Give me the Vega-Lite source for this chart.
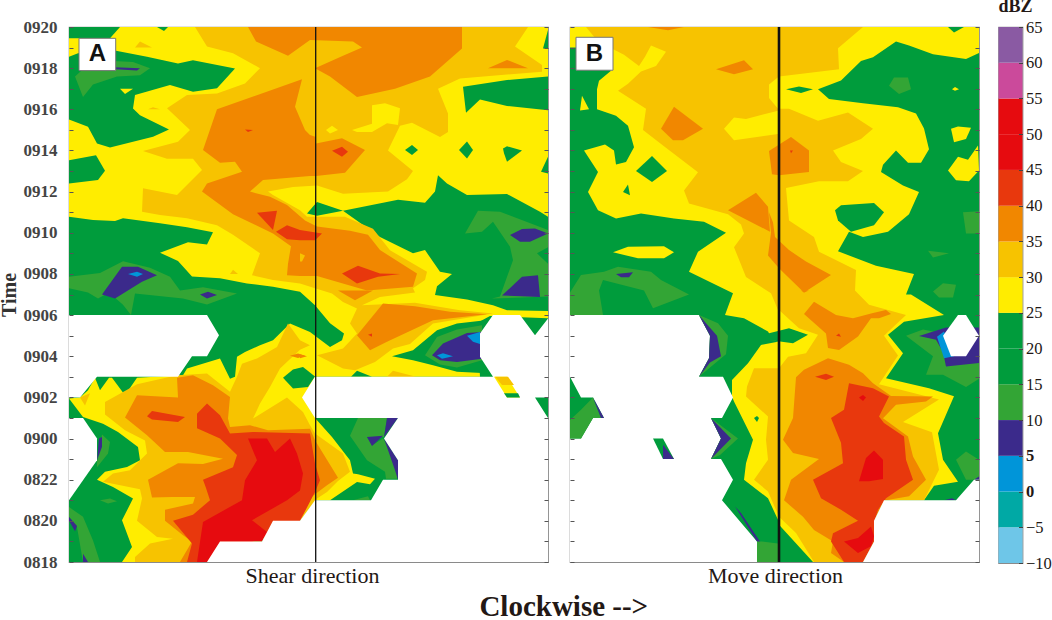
{"$schema":"https://vega.github.io/schema/vega-lite/v6.json","padding":{"left":-2,"top":-3,"right":0,"bottom":0},"background":"white","config":{"view":{"stroke":"#8a8a8a","strokeWidth":1.2},"axis":{"labelFont":"Liberation Serif","titleFont":"Liberation Serif"}},"spacing":16.5,
"title":{"text":"Clockwise -->","orient":"bottom","anchor":"start","dx":481,"offset":6,"font":"Liberation Serif","fontSize":29,"fontWeight":"bold","color":"#231815"},
"datasets":{
"bands":[{"z":-10,"hi":-5},{"z":-5,"hi":0},{"z":0,"hi":5},{"z":5,"hi":10},{"z":10,"hi":15},{"z":15,"hi":20},{"z":20,"hi":25},{"z":25,"hi":30},{"z":30,"hi":35},{"z":35,"hi":40},{"z":40,"hi":45},{"z":45,"hi":50},{"z":50,"hi":55},{"z":55,"hi":60},{"z":60,"hi":65}],
"a":[
{"id":1,"z":20,"x":0,"t":0},{"id":1,"z":20,"x":479,"t":0},{"id":1,"z":20,"x":479,"t":26},{"id":1,"z":20,"x":0,"t":26},
{"id":2,"z":25,"x":0,"t":26},{"id":2,"z":25,"x":479,"t":26},{"id":2,"z":25,"x":479,"t":16.78},{"id":2,"z":25,"x":471,"t":17.02},{"id":2,"z":25,"x":438,"t":17.88},{"id":2,"z":25,"x":398,"t":17.83},{"id":2,"z":25,"x":378,"t":18.4},{"id":2,"z":25,"x":369,"t":18.8},{"id":2,"z":25,"x":366,"t":18},{"id":2,"z":25,"x":356,"t":17.46},{"id":2,"z":25,"x":329,"t":17.6},{"id":2,"z":25,"x":274,"t":17.07},{"id":2,"z":25,"x":311,"t":15.8},{"id":2,"z":25,"x":344,"t":15},{"id":2,"z":25,"x":356,"t":15.16},{"id":2,"z":25,"x":371,"t":14.1},{"id":2,"z":25,"x":383,"t":14},{"id":2,"z":25,"x":368,"t":13.4},{"id":2,"z":25,"x":366,"t":12.97},{"id":2,"z":25,"x":398,"t":12.76},{"id":2,"z":25,"x":424,"t":12.48},{"id":2,"z":25,"x":438,"t":12.24},{"id":2,"z":25,"x":479,"t":12.2},{"id":2,"z":25,"x":479,"t":11.85},{"id":2,"z":25,"x":421,"t":11.95},{"id":2,"z":25,"x":408,"t":11.62},{"id":2,"z":25,"x":411,"t":9},{"id":2,"z":25,"x":246,"t":9},{"id":2,"z":25,"x":246,"t":7},{"id":2,"z":25,"x":263,"t":6.08},{"id":2,"z":25,"x":281,"t":4.94},{"id":2,"z":25,"x":284,"t":4.3},{"id":2,"z":25,"x":289,"t":4.26},{"id":2,"z":25,"x":306,"t":4.05},{"id":2,"z":25,"x":301,"t":3.78},{"id":2,"z":25,"x":288,"t":3.89},{"id":2,"z":25,"x":261,"t":3},{"id":2,"z":25,"x":246,"t":3},{"id":2,"z":25,"x":231,"t":2},{"id":2,"z":25,"x":204,"t":2},{"id":2,"z":25,"x":193,"t":1},{"id":2,"z":25,"x":151,"t":1},{"id":2,"z":25,"x":138,"t":0},{"id":2,"z":25,"x":53,"t":0},{"id":2,"z":25,"x":63,"t":0.73},{"id":2,"z":25,"x":53,"t":2.03},{"id":2,"z":25,"x":64,"t":3.08},{"id":2,"z":25,"x":44,"t":3.65},{"id":2,"z":25,"x":28,"t":4},{"id":2,"z":25,"x":36,"t":4.38},{"id":2,"z":25,"x":58,"t":4.62},{"id":2,"z":25,"x":71,"t":4.94},{"id":2,"z":25,"x":69,"t":5.59},{"id":2,"z":25,"x":49,"t":6.32},{"id":2,"z":25,"x":34,"t":6.72},{"id":2,"z":25,"x":14,"t":7.05},{"id":2,"z":25,"x":0,"t":7.94},{"id":2,"z":25,"x":11,"t":8},{"id":2,"z":25,"x":19,"t":8.35},{"id":2,"z":25,"x":26,"t":8.96},{"id":2,"z":25,"x":31,"t":8.35},{"id":2,"z":25,"x":40,"t":8.96},{"id":2,"z":25,"x":43,"t":8.96},{"id":2,"z":25,"x":56,"t":8.1},{"id":2,"z":25,"x":68,"t":8.96},{"id":2,"z":25,"x":114,"t":9.08},{"id":2,"z":25,"x":118,"t":9.4},{"id":2,"z":25,"x":151,"t":9.89},{"id":2,"z":25,"x":161,"t":8.9},{"id":2,"z":25,"x":166,"t":9},{"id":2,"z":25,"x":168,"t":9.97},{"id":2,"z":25,"x":176,"t":10.21},{"id":2,"z":25,"x":191,"t":10.53},{"id":2,"z":25,"x":204,"t":10.78},{"id":2,"z":25,"x":221,"t":11.59},{"id":2,"z":25,"x":241,"t":11.18},{"id":2,"z":25,"x":261,"t":10.45},{"id":2,"z":25,"x":273,"t":10.78},{"id":2,"z":25,"x":275,"t":11.1},{"id":2,"z":25,"x":261,"t":11.6},{"id":2,"z":25,"x":246,"t":12.48},{"id":2,"z":25,"x":231,"t":13.13},{"id":2,"z":25,"x":204,"t":13.38},{"id":2,"z":25,"x":178,"t":13.54},{"id":2,"z":25,"x":151,"t":13.79},{"id":2,"z":25,"x":123,"t":13.87},{"id":2,"z":25,"x":109,"t":14.63},{"id":2,"z":25,"x":91,"t":15.03},{"id":2,"z":25,"x":119,"t":15.54},{"id":2,"z":25,"x":138,"t":15.43},{"id":2,"z":25,"x":144,"t":16.03},{"id":2,"z":25,"x":118,"t":16.27},{"id":2,"z":25,"x":91,"t":16.46},{"id":2,"z":25,"x":54,"t":16.7},{"id":2,"z":25,"x":46,"t":16.57},{"id":2,"z":25,"x":24,"t":16.62},{"id":2,"z":25,"x":0,"t":16.78},
{"id":3,"z":20,"x":0,"t":26},{"id":3,"z":20,"x":51,"t":26},{"id":3,"z":20,"x":41,"t":25.45},{"id":3,"z":20,"x":0,"t":25.45},
{"id":4,"z":20,"x":0,"t":24.56},{"id":4,"z":20,"x":9,"t":24.73},{"id":4,"z":20,"x":47,"t":24.85},{"id":4,"z":20,"x":78,"t":24.56},{"id":4,"z":20,"x":109,"t":24.23},{"id":4,"z":20,"x":124,"t":24.39},{"id":4,"z":20,"x":166,"t":23.98},{"id":4,"z":20,"x":148,"t":23.02},{"id":4,"z":20,"x":124,"t":22.85},{"id":4,"z":20,"x":101,"t":23.18},{"id":4,"z":20,"x":66,"t":22.69},{"id":4,"z":20,"x":64,"t":22.04},{"id":4,"z":20,"x":71,"t":21.71},{"id":4,"z":20,"x":100,"t":21.02},{"id":4,"z":20,"x":84,"t":20.67},{"id":4,"z":20,"x":41,"t":20.15},{"id":4,"z":20,"x":28,"t":20.34},{"id":4,"z":20,"x":19,"t":21.15},{"id":4,"z":20,"x":0,"t":21.5},
{"id":5,"z":25,"x":51,"t":23},{"id":5,"z":25,"x":64,"t":23},{"id":5,"z":25,"x":56,"t":22.75},
{"id":6,"z":10,"x":6,"t":23.6},{"id":6,"z":10,"x":14,"t":22.6},{"id":6,"z":10,"x":24,"t":23.2},{"id":6,"z":10,"x":48,"t":23.6},{"id":6,"z":10,"x":71,"t":23.65},{"id":6,"z":10,"x":81,"t":23.99},{"id":6,"z":10,"x":64,"t":24.3},{"id":6,"z":10,"x":24,"t":24.4},
{"id":7,"z":5,"x":46,"t":24.04},{"id":7,"z":5,"x":71,"t":24},{"id":7,"z":5,"x":68,"t":23.88},{"id":7,"z":5,"x":46,"t":23.95},
{"id":8,"z":20,"x":0,"t":19.53},{"id":8,"z":20,"x":27,"t":19.77},{"id":8,"z":20,"x":36,"t":19.01},{"id":8,"z":20,"x":29,"t":18.56},{"id":8,"z":20,"x":0,"t":18.4},
{"id":9,"z":20,"x":88,"t":26},{"id":9,"z":20,"x":99,"t":26},{"id":9,"z":20,"x":95,"t":25.8},
{"id":10,"z":20,"x":474,"t":24.96},{"id":10,"z":20,"x":479,"t":25.85},{"id":10,"z":20,"x":479,"t":24.96},
{"id":11,"z":20,"x":479,"t":23.59},{"id":11,"z":20,"x":438,"t":23.42},{"id":11,"z":20,"x":394,"t":23.1},{"id":11,"z":20,"x":397,"t":21.83},{"id":11,"z":20,"x":411,"t":22.48},{"id":11,"z":20,"x":438,"t":22.16},{"id":11,"z":20,"x":479,"t":21.96},
{"id":12,"z":20,"x":336,"t":20.02},{"id":12,"z":20,"x":343,"t":20.26},{"id":12,"z":20,"x":349,"t":20.02},{"id":12,"z":20,"x":343,"t":19.78},
{"id":13,"z":20,"x":390,"t":20.02},{"id":13,"z":20,"x":398,"t":20.43},{"id":13,"z":20,"x":404,"t":20.02},{"id":13,"z":20,"x":398,"t":19.61},
{"id":14,"z":20,"x":434,"t":20.1},{"id":14,"z":20,"x":438,"t":20.2},{"id":14,"z":20,"x":453,"t":20},{"id":14,"z":20,"x":438,"t":19.45},{"id":14,"z":20,"x":435,"t":19.86},
{"id":15,"z":20,"x":479,"t":19.7},{"id":15,"z":20,"x":472,"t":18.97},{"id":15,"z":20,"x":479,"t":18.88},
{"id":17,"z":10,"x":396,"t":15.97},{"id":17,"z":10,"x":409,"t":17.07},{"id":17,"z":10,"x":431,"t":17.02},{"id":17,"z":10,"x":479,"t":16.13},{"id":17,"z":10,"x":479,"t":15.3},{"id":17,"z":10,"x":468,"t":15},{"id":17,"z":10,"x":479,"t":14.5},{"id":17,"z":10,"x":479,"t":12.9},{"id":17,"z":10,"x":423,"t":12.8},{"id":17,"z":10,"x":431,"t":12.9},{"id":17,"z":10,"x":444,"t":14.67},{"id":17,"z":10,"x":441,"t":15.32},{"id":17,"z":10,"x":424,"t":16.53},{"id":17,"z":10,"x":413,"t":16.05},
{"id":18,"z":5,"x":441,"t":15.89},{"id":18,"z":5,"x":453,"t":16.18},{"id":18,"z":5,"x":466,"t":16.21},{"id":18,"z":5,"x":479,"t":15.97},{"id":18,"z":5,"x":461,"t":15.56},{"id":18,"z":5,"x":451,"t":15.56},
{"id":19,"z":5,"x":433,"t":12.95},{"id":19,"z":5,"x":453,"t":13.86},{"id":19,"z":5,"x":469,"t":13.94},{"id":19,"z":5,"x":471,"t":12.88},
{"id":20,"z":10,"x":0,"t":13.86},{"id":20,"z":10,"x":31,"t":14.05},{"id":20,"z":10,"x":54,"t":14.62},{"id":20,"z":10,"x":81,"t":14.3},{"id":20,"z":10,"x":101,"t":13.86},{"id":20,"z":10,"x":111,"t":13.2},{"id":20,"z":10,"x":134,"t":13.35},{"id":20,"z":10,"x":168,"t":13.05},{"id":20,"z":10,"x":138,"t":12.51},{"id":20,"z":10,"x":114,"t":12.8},{"id":20,"z":10,"x":66,"t":13.05},{"id":20,"z":10,"x":62,"t":12},{"id":20,"z":10,"x":54,"t":12.5},{"id":20,"z":10,"x":40,"t":13.1},{"id":20,"z":10,"x":29,"t":12.8},{"id":20,"z":10,"x":19,"t":13.1},{"id":20,"z":10,"x":0,"t":13.3},
{"id":21,"z":5,"x":33,"t":13},{"id":21,"z":5,"x":53,"t":14.35},{"id":21,"z":5,"x":69,"t":14.35},{"id":21,"z":5,"x":88,"t":13.94},{"id":21,"z":5,"x":73,"t":13.62},{"id":21,"z":5,"x":46,"t":12.8},
{"id":22,"z":0,"x":59,"t":14},{"id":22,"z":0,"x":68,"t":14.1},{"id":22,"z":0,"x":74,"t":14},{"id":22,"z":0,"x":68,"t":13.86},
{"id":23,"z":5,"x":131,"t":13},{"id":23,"z":5,"x":139,"t":13.13},{"id":23,"z":5,"x":148,"t":12.97},{"id":23,"z":5,"x":138,"t":12.8},
{"id":24,"z":20,"x":323,"t":10},{"id":24,"z":20,"x":344,"t":10.29},{"id":24,"z":20,"x":368,"t":11.26},{"id":24,"z":20,"x":388,"t":11.59},{"id":24,"z":20,"x":423,"t":11.78},{"id":24,"z":20,"x":411,"t":11.1},{"id":24,"z":20,"x":411,"t":9.97},{"id":24,"z":20,"x":423,"t":9.16},{"id":24,"z":20,"x":388,"t":9.24},{"id":24,"z":20,"x":364,"t":9.56},{"id":24,"z":20,"x":344,"t":9.8},
{"id":25,"z":10,"x":356,"t":10.05},{"id":25,"z":10,"x":368,"t":10.94},{"id":25,"z":10,"x":388,"t":11.3},{"id":25,"z":10,"x":413,"t":11.5},{"id":25,"z":10,"x":413,"t":9.8},{"id":25,"z":10,"x":388,"t":9.45},{"id":25,"z":10,"x":371,"t":9.6},
{"id":26,"z":5,"x":363,"t":10.05},{"id":26,"z":5,"x":374,"t":10.62},{"id":26,"z":5,"x":398,"t":11.13},{"id":26,"z":5,"x":413,"t":11.18},{"id":26,"z":5,"x":413,"t":9.88},{"id":26,"z":5,"x":388,"t":9.72},{"id":26,"z":5,"x":371,"t":9.8},
{"id":27,"z":0,"x":398,"t":11},{"id":27,"z":0,"x":411,"t":11.18},{"id":27,"z":0,"x":411,"t":10.6},{"id":27,"z":0,"x":404,"t":10.7},
{"id":28,"z":0,"x":368,"t":10.05},{"id":28,"z":0,"x":374,"t":10.14},{"id":28,"z":0,"x":384,"t":10},{"id":28,"z":0,"x":373,"t":9.88},
{"id":29,"z":20,"x":214,"t":8.96},{"id":29,"z":20,"x":224,"t":9.35},{"id":29,"z":20,"x":234,"t":9.48},{"id":29,"z":20,"x":246,"t":9.02},{"id":29,"z":20,"x":239,"t":8.5},{"id":29,"z":20,"x":224,"t":8.43},
{"id":30,"z":20,"x":282,"t":9},{"id":30,"z":20,"x":288,"t":9.3},{"id":30,"z":20,"x":303,"t":9},
{"id":31,"z":10,"x":289,"t":7},{"id":31,"z":10,"x":318,"t":7},{"id":31,"z":10,"x":315,"t":6.08},{"id":31,"z":10,"x":298,"t":6.08},{"id":31,"z":10,"x":303,"t":5.67},{"id":31,"z":10,"x":314,"t":6},{"id":31,"z":10,"x":328,"t":4.94},{"id":31,"z":10,"x":328,"t":4.05},{"id":31,"z":10,"x":317,"t":4.05},{"id":31,"z":10,"x":316,"t":4.38},{"id":31,"z":10,"x":298,"t":4.94},{"id":31,"z":10,"x":281,"t":6.13},
{"id":32,"z":5,"x":318,"t":7},{"id":32,"z":5,"x":329,"t":7},{"id":32,"z":5,"x":315,"t":6.08},
{"id":33,"z":5,"x":298,"t":6.08},{"id":33,"z":5,"x":314,"t":6.13},{"id":33,"z":5,"x":303,"t":5.64},
{"id":34,"z":5,"x":315,"t":6},{"id":34,"z":5,"x":329,"t":4.94},{"id":34,"z":5,"x":329,"t":4},{"id":34,"z":5,"x":326,"t":4.46},
{"id":35,"z":10,"x":284,"t":3},{"id":35,"z":10,"x":299,"t":3.2},{"id":35,"z":10,"x":301,"t":3},
{"id":36,"z":10,"x":28,"t":4.9},{"id":36,"z":10,"x":33,"t":6.2},{"id":36,"z":10,"x":41,"t":5.83},{"id":36,"z":10,"x":39,"t":5.27},{"id":36,"z":10,"x":28,"t":4.6},
{"id":37,"z":5,"x":28,"t":4.94},{"id":37,"z":5,"x":30,"t":6},{"id":37,"z":5,"x":33,"t":6.08},{"id":37,"z":5,"x":33,"t":5.6},
{"id":38,"z":10,"x":0,"t":2.67},{"id":38,"z":10,"x":14,"t":2.2},{"id":38,"z":10,"x":24,"t":1.05},{"id":38,"z":10,"x":31,"t":0},{"id":38,"z":10,"x":14,"t":0},{"id":38,"z":10,"x":8,"t":1.7},{"id":38,"z":10,"x":0,"t":2.2},
{"id":39,"z":5,"x":0,"t":2.19},{"id":39,"z":5,"x":8,"t":1.75},{"id":39,"z":5,"x":6,"t":1.5},{"id":39,"z":5,"x":0,"t":2},
{"id":40,"z":5,"x":14,"t":0},{"id":40,"z":5,"x":14,"t":0.4},{"id":40,"z":5,"x":19,"t":0},
{"id":41,"z":10,"x":31,"t":3},{"id":41,"z":10,"x":41,"t":3.08},{"id":41,"z":10,"x":48,"t":2.95},{"id":41,"z":10,"x":39,"t":2.84},
{"id":42,"z":30,"x":126,"t":26},{"id":42,"z":30,"x":459,"t":26},{"id":42,"z":30,"x":446,"t":25.05},{"id":42,"z":30,"x":473,"t":24.15},{"id":42,"z":30,"x":473,"t":23.83},{"id":42,"z":30,"x":391,"t":23.5},{"id":42,"z":30,"x":369,"t":23},{"id":42,"z":30,"x":379,"t":21.8},{"id":42,"z":30,"x":379,"t":20.9},{"id":42,"z":30,"x":371,"t":20.66},{"id":42,"z":30,"x":343,"t":21.35},{"id":42,"z":30,"x":331,"t":21.2},{"id":42,"z":30,"x":321,"t":20.2},{"id":42,"z":30,"x":319,"t":20},{"id":42,"z":30,"x":344,"t":19},{"id":42,"z":30,"x":338,"t":18.6},{"id":42,"z":30,"x":319,"t":18},{"id":42,"z":30,"x":274,"t":17.9},{"id":42,"z":30,"x":248,"t":18.3},{"id":42,"z":30,"x":224,"t":18.23},{"id":42,"z":30,"x":199,"t":18},{"id":42,"z":30,"x":204,"t":17.83},{"id":42,"z":30,"x":231,"t":17.1},{"id":42,"z":30,"x":238,"t":16.78},{"id":42,"z":30,"x":276,"t":16.78},{"id":42,"z":30,"x":304,"t":16.2},{"id":42,"z":30,"x":321,"t":15.15},{"id":42,"z":30,"x":358,"t":14.1},{"id":42,"z":30,"x":356,"t":13.7},{"id":42,"z":30,"x":344,"t":13.3},{"id":42,"z":30,"x":346,"t":13.1},{"id":42,"z":30,"x":311,"t":12.88},{"id":42,"z":30,"x":293,"t":12.48},{"id":42,"z":30,"x":346,"t":12.6},{"id":42,"z":30,"x":391,"t":12.24},{"id":42,"z":30,"x":424,"t":12.08},{"id":42,"z":30,"x":364,"t":11.59},{"id":42,"z":30,"x":341,"t":10.6},{"id":42,"z":30,"x":324,"t":10.37},{"id":42,"z":30,"x":306,"t":9.72},{"id":42,"z":30,"x":286,"t":9.32},{"id":42,"z":30,"x":274,"t":9.4},{"id":42,"z":30,"x":248,"t":10.05},{"id":42,"z":30,"x":274,"t":10.37},{"id":42,"z":30,"x":288,"t":11.1},{"id":42,"z":30,"x":281,"t":11.59},{"id":42,"z":30,"x":288,"t":12.32},{"id":42,"z":30,"x":274,"t":12.64},{"id":42,"z":30,"x":263,"t":13.05},{"id":42,"z":30,"x":246,"t":13.3},{"id":42,"z":30,"x":231,"t":13.54},{"id":42,"z":30,"x":204,"t":13.7},{"id":42,"z":30,"x":183,"t":13.94},{"id":42,"z":30,"x":191,"t":15},{"id":42,"z":30,"x":164,"t":15.9},{"id":42,"z":30,"x":148,"t":16.37},{"id":42,"z":30,"x":118,"t":16.7},{"id":42,"z":30,"x":91,"t":16.86},{"id":42,"z":30,"x":73,"t":17.02},{"id":42,"z":30,"x":74,"t":18.16},{"id":42,"z":30,"x":108,"t":17.83},{"id":42,"z":30,"x":133,"t":19.05},{"id":42,"z":30,"x":124,"t":19.6},{"id":42,"z":30,"x":98,"t":19.6},{"id":42,"z":30,"x":74,"t":19.97},{"id":42,"z":30,"x":109,"t":20.42},{"id":42,"z":30,"x":121,"t":21},{"id":42,"z":30,"x":98,"t":22.05},{"id":42,"z":30,"x":118,"t":22.69},{"id":42,"z":30,"x":148,"t":22.77},{"id":42,"z":30,"x":176,"t":23.26},{"id":42,"z":30,"x":191,"t":24},{"id":42,"z":30,"x":164,"t":24.72},{"id":42,"z":30,"x":138,"t":25.05},
{"id":43,"z":30,"x":66,"t":25},{"id":43,"z":30,"x":83,"t":25},{"id":43,"z":30,"x":71,"t":25.3},
{"id":44,"z":30,"x":161,"t":14},{"id":44,"z":30,"x":169,"t":14},{"id":44,"z":30,"x":164,"t":14.2},
{"id":45,"z":30,"x":79,"t":22},{"id":45,"z":30,"x":91,"t":22},{"id":45,"z":30,"x":84,"t":22.1},
{"id":46,"z":30,"x":324,"t":9.3},{"id":46,"z":30,"x":347,"t":9},{"id":46,"z":30,"x":318,"t":9},
{"id":47,"z":25,"x":257,"t":21},{"id":47,"z":25,"x":263,"t":21.2},{"id":47,"z":25,"x":269,"t":21},{"id":47,"z":25,"x":261,"t":20.83},
{"id":48,"z":25,"x":283,"t":20.99},{"id":48,"z":25,"x":303,"t":21.3},{"id":48,"z":25,"x":303,"t":22.2},{"id":48,"z":25,"x":316,"t":22.29},{"id":48,"z":25,"x":331,"t":22.05},{"id":48,"z":25,"x":329,"t":21.24},{"id":48,"z":25,"x":318,"t":21.32},{"id":48,"z":25,"x":303,"t":20.9},{"id":48,"z":25,"x":288,"t":20.9},
{"id":49,"z":20,"x":238,"t":16.94},{"id":49,"z":20,"x":248,"t":17.5},{"id":49,"z":20,"x":274,"t":17.07},{"id":49,"z":20,"x":248,"t":16.83},
{"id":50,"z":35,"x":179,"t":26},{"id":50,"z":35,"x":187,"t":25.3},{"id":50,"z":35,"x":219,"t":24.6},{"id":50,"z":35,"x":241,"t":25.37},{"id":50,"z":35,"x":284,"t":25.3},{"id":50,"z":35,"x":293,"t":25},{"id":50,"z":35,"x":274,"t":24.6},{"id":50,"z":35,"x":246,"t":24},{"id":50,"z":35,"x":261,"t":23.6},{"id":50,"z":35,"x":288,"t":22.6},{"id":50,"z":35,"x":326,"t":23},{"id":50,"z":35,"x":361,"t":23.6},{"id":50,"z":35,"x":393,"t":24.96},{"id":50,"z":35,"x":393,"t":26},
{"id":51,"z":35,"x":419,"t":24},{"id":51,"z":35,"x":438,"t":24.4},{"id":51,"z":35,"x":459,"t":24},
{"id":52,"z":35,"x":233,"t":23.46},{"id":52,"z":35,"x":148,"t":22},{"id":52,"z":35,"x":134,"t":20.02},{"id":52,"z":35,"x":151,"t":19.4},{"id":52,"z":35,"x":166,"t":19.45},{"id":52,"z":35,"x":173,"t":18.97},{"id":52,"z":35,"x":138,"t":18.4},{"id":52,"z":35,"x":133,"t":18},{"id":52,"z":35,"x":164,"t":16.9},{"id":52,"z":35,"x":204,"t":15.97},{"id":52,"z":35,"x":222,"t":15.35},{"id":52,"z":35,"x":219,"t":14.5},{"id":52,"z":35,"x":218,"t":13.94},{"id":52,"z":35,"x":231,"t":13.9},{"id":52,"z":35,"x":248,"t":13.9},{"id":52,"z":35,"x":298,"t":13.2},{"id":52,"z":35,"x":344,"t":13.38},{"id":52,"z":35,"x":348,"t":14.02},{"id":52,"z":35,"x":311,"t":15.16},{"id":52,"z":35,"x":299,"t":15.9},{"id":52,"z":35,"x":281,"t":16.1},{"id":52,"z":35,"x":248,"t":16.3},{"id":52,"z":35,"x":236,"t":16.6},{"id":52,"z":35,"x":218,"t":17.35},{"id":52,"z":35,"x":201,"t":17.75},{"id":52,"z":35,"x":181,"t":18},{"id":52,"z":35,"x":194,"t":18.56},{"id":52,"z":35,"x":241,"t":18.76},{"id":52,"z":35,"x":247,"t":18.76},{"id":52,"z":35,"x":276,"t":18.92},{"id":52,"z":35,"x":296,"t":20.02},{"id":52,"z":35,"x":273,"t":20.59},{"id":52,"z":35,"x":247,"t":20.34},{"id":52,"z":35,"x":247,"t":20.66},{"id":52,"z":35,"x":241,"t":20.75},{"id":52,"z":35,"x":236,"t":21},{"id":52,"z":35,"x":226,"t":22.13},
{"id":53,"z":30,"x":231,"t":15},{"id":53,"z":30,"x":236,"t":14.9},{"id":53,"z":30,"x":233,"t":14.6},{"id":53,"z":30,"x":231,"t":14.6},
{"id":54,"z":40,"x":188,"t":16.97},{"id":54,"z":40,"x":208,"t":17.07},{"id":54,"z":40,"x":204,"t":16.13},
{"id":55,"z":40,"x":207,"t":16.05},{"id":55,"z":40,"x":218,"t":16.37},{"id":55,"z":40,"x":231,"t":16.13},{"id":55,"z":40,"x":253,"t":15.97},{"id":55,"z":40,"x":246,"t":15.64},{"id":55,"z":40,"x":231,"t":15.64},{"id":55,"z":40,"x":218,"t":15.68},
{"id":56,"z":40,"x":273,"t":14.02},{"id":56,"z":40,"x":289,"t":14.4},{"id":56,"z":40,"x":311,"t":14.02},{"id":56,"z":40,"x":331,"t":14},{"id":56,"z":40,"x":309,"t":13.86},{"id":56,"z":40,"x":288,"t":13.54},
{"id":57,"z":40,"x":263,"t":19.98},{"id":57,"z":40,"x":273,"t":20.18},{"id":57,"z":40,"x":279,"t":19.94},{"id":57,"z":40,"x":273,"t":19.7},
{"id":58,"z":40,"x":176,"t":21.02},{"id":58,"z":40,"x":184,"t":21},{"id":58,"z":40,"x":179,"t":20.9},
{"id":59,"z":35,"x":288,"t":11.02},{"id":59,"z":35,"x":314,"t":12.56},{"id":59,"z":35,"x":346,"t":12.43},{"id":59,"z":35,"x":381,"t":12.16},{"id":59,"z":35,"x":418,"t":12.04},{"id":59,"z":35,"x":364,"t":11.75},{"id":59,"z":35,"x":318,"t":10.7},{"id":59,"z":35,"x":301,"t":10.29},
{"id":60,"z":40,"x":299,"t":11.05},{"id":60,"z":40,"x":303,"t":11.1},{"id":60,"z":40,"x":303,"t":10.95},
{"id":61,"z":35,"x":269,"t":13.2},{"id":61,"z":35,"x":304,"t":13.2},{"id":61,"z":35,"x":286,"t":12.72},
{"id":62,"z":35,"x":231,"t":10.1},{"id":62,"z":35,"x":238,"t":10},{"id":62,"z":35,"x":231,"t":9.9},
{"id":63,"z":30,"x":36,"t":7.78},{"id":63,"z":30,"x":68,"t":8.64},{"id":63,"z":30,"x":108,"t":9.08},{"id":63,"z":30,"x":138,"t":9.16},{"id":63,"z":30,"x":161,"t":8.27},{"id":63,"z":30,"x":168,"t":9},{"id":63,"z":30,"x":173,"t":9.64},{"id":63,"z":30,"x":188,"t":9.89},{"id":63,"z":30,"x":208,"t":10.45},{"id":63,"z":30,"x":219,"t":11.59},{"id":63,"z":30,"x":231,"t":10.78},{"id":63,"z":30,"x":241,"t":10.53},{"id":63,"z":30,"x":231,"t":10.32},{"id":63,"z":30,"x":211,"t":9.4},{"id":63,"z":30,"x":201,"t":8.5},{"id":63,"z":30,"x":191,"t":7.7},{"id":63,"z":30,"x":184,"t":6.97},{"id":63,"z":30,"x":218,"t":8},{"id":63,"z":30,"x":234,"t":7.29},{"id":63,"z":30,"x":241,"t":6.64},{"id":63,"z":30,"x":246,"t":6.24},{"id":63,"z":30,"x":274,"t":5.27},{"id":63,"z":30,"x":281,"t":4.38},{"id":63,"z":30,"x":269,"t":3.94},{"id":63,"z":30,"x":258,"t":3.4},{"id":63,"z":30,"x":248,"t":3.08},{"id":63,"z":30,"x":231,"t":2},{"id":63,"z":30,"x":138,"t":0},{"id":63,"z":30,"x":66,"t":0},{"id":63,"z":30,"x":66,"t":0.24},{"id":63,"z":30,"x":81,"t":0.9},{"id":63,"z":30,"x":104,"t":1.13},{"id":63,"z":30,"x":88,"t":1.22},{"id":63,"z":30,"x":68,"t":2},{"id":63,"z":30,"x":73,"t":3.08},{"id":63,"z":30,"x":71,"t":3.53},{"id":63,"z":30,"x":34,"t":3.9},{"id":63,"z":30,"x":44,"t":4.3},{"id":63,"z":30,"x":61,"t":4.46},{"id":63,"z":30,"x":78,"t":5.27},{"id":63,"z":30,"x":76,"t":5.9},{"id":63,"z":30,"x":56,"t":6.4},{"id":63,"z":30,"x":36,"t":7.17},
{"id":64,"z":30,"x":11,"t":8},{"id":64,"z":30,"x":21,"t":8.2},{"id":64,"z":30,"x":16,"t":7.6},
{"id":65,"z":35,"x":56,"t":7.02},{"id":65,"z":35,"x":68,"t":8.1},{"id":65,"z":35,"x":109,"t":8},{"id":65,"z":35,"x":108,"t":8.96},{"id":65,"z":35,"x":124,"t":9.08},{"id":65,"z":35,"x":144,"t":8.59},{"id":65,"z":35,"x":161,"t":8.02},{"id":65,"z":35,"x":159,"t":6.97},{"id":65,"z":35,"x":161,"t":6.56},{"id":65,"z":35,"x":181,"t":6.65},{"id":65,"z":35,"x":199,"t":6.4},{"id":65,"z":35,"x":241,"t":6.48},{"id":65,"z":35,"x":246,"t":5.92},{"id":65,"z":35,"x":269,"t":4.1},{"id":65,"z":35,"x":258,"t":3.73},{"id":65,"z":35,"x":238,"t":3},{"id":65,"z":35,"x":231,"t":2},{"id":65,"z":35,"x":138,"t":0},{"id":65,"z":35,"x":111,"t":0},{"id":65,"z":35,"x":123,"t":1},{"id":65,"z":35,"x":114,"t":1.3},{"id":65,"z":35,"x":96,"t":2},{"id":65,"z":35,"x":96,"t":2.54},{"id":65,"z":35,"x":124,"t":2.84},{"id":65,"z":35,"x":126,"t":3.16},{"id":65,"z":35,"x":103,"t":3.16},{"id":65,"z":35,"x":83,"t":3.14},{"id":65,"z":35,"x":79,"t":4},{"id":65,"z":35,"x":109,"t":4.8},{"id":65,"z":35,"x":134,"t":4.76},{"id":65,"z":35,"x":154,"t":5.02},{"id":65,"z":35,"x":119,"t":5.35},{"id":65,"z":35,"x":96,"t":5.35},{"id":65,"z":35,"x":78,"t":6.16},
{"id":66,"z":35,"x":221,"t":10.02},{"id":66,"z":35,"x":229,"t":10.13},{"id":66,"z":35,"x":236,"t":10.02},{"id":66,"z":35,"x":229,"t":9.92},
{"id":67,"z":40,"x":128,"t":7.21},{"id":67,"z":40,"x":138,"t":7.7},{"id":67,"z":40,"x":151,"t":7.13},{"id":67,"z":40,"x":161,"t":6.24},{"id":67,"z":40,"x":184,"t":6.32},{"id":67,"z":40,"x":241,"t":6.24},{"id":67,"z":40,"x":246,"t":4.78},{"id":67,"z":40,"x":251,"t":3.97},{"id":67,"z":40,"x":246,"t":3.4},{"id":67,"z":40,"x":231,"t":2},{"id":67,"z":40,"x":138,"t":0},{"id":67,"z":40,"x":118,"t":0},{"id":67,"z":40,"x":123,"t":0.9},{"id":67,"z":40,"x":104,"t":2},{"id":67,"z":40,"x":124,"t":2.3},{"id":67,"z":40,"x":141,"t":3},{"id":67,"z":40,"x":137,"t":3.6},{"id":67,"z":40,"x":134,"t":4},{"id":67,"z":40,"x":164,"t":4.6},{"id":67,"z":40,"x":168,"t":5.2},{"id":67,"z":40,"x":151,"t":6},{"id":67,"z":40,"x":128,"t":6.5},
{"id":68,"z":40,"x":78,"t":7.08},{"id":68,"z":40,"x":83,"t":7.34},{"id":68,"z":40,"x":116,"t":7.05},{"id":68,"z":40,"x":109,"t":6.8},{"id":68,"z":40,"x":83,"t":6.92},
{"id":69,"z":45,"x":128,"t":0},{"id":69,"z":45,"x":134,"t":1.95},{"id":69,"z":45,"x":173,"t":3},{"id":69,"z":45,"x":176,"t":3.97},{"id":69,"z":45,"x":188,"t":4.94},{"id":69,"z":45,"x":179,"t":6},{"id":69,"z":45,"x":198,"t":6},{"id":69,"z":45,"x":206,"t":5.35},{"id":69,"z":45,"x":221,"t":6},{"id":69,"z":45,"x":228,"t":5.27},{"id":69,"z":45,"x":234,"t":4.3},{"id":69,"z":45,"x":231,"t":3.48},{"id":69,"z":45,"x":218,"t":3},{"id":69,"z":45,"x":183,"t":2.03},{"id":69,"z":45,"x":198,"t":1.46},{"id":69,"z":45,"x":193,"t":1},{"id":69,"z":45,"x":151,"t":1},{"id":69,"z":45,"x":138,"t":0},
{"id":70,"z":"NA","x":0,"t":12},{"id":70,"z":"NA","x":138,"t":12},{"id":70,"z":"NA","x":150,"t":11.02},{"id":70,"z":"NA","x":138,"t":10},{"id":70,"z":"NA","x":123,"t":10},{"id":70,"z":"NA","x":109,"t":9},{"id":70,"z":"NA","x":28,"t":9},{"id":70,"z":"NA","x":11,"t":8},{"id":70,"z":"NA","x":0,"t":8},
{"id":71,"z":"NA","x":0,"t":7},{"id":71,"z":"NA","x":14,"t":7},{"id":71,"z":"NA","x":28,"t":6},{"id":71,"z":"NA","x":28,"t":4.94},{"id":71,"z":"NA","x":0,"t":3},
{"id":72,"z":"NA","x":138,"t":0},{"id":72,"z":"NA","x":151,"t":1},{"id":72,"z":"NA","x":193,"t":1},{"id":72,"z":"NA","x":204,"t":2},{"id":72,"z":"NA","x":231,"t":2},{"id":72,"z":"NA","x":246,"t":3},{"id":72,"z":"NA","x":302,"t":3},{"id":72,"z":"NA","x":314,"t":4},{"id":72,"z":"NA","x":329,"t":4},{"id":72,"z":"NA","x":329,"t":4.94},{"id":72,"z":"NA","x":315,"t":6},{"id":72,"z":"NA","x":329,"t":7},{"id":72,"z":"NA","x":246,"t":7},{"id":72,"z":"NA","x":233,"t":8},{"id":72,"z":"NA","x":246,"t":9},{"id":72,"z":"NA","x":424,"t":9},{"id":72,"z":"NA","x":411,"t":9.97},{"id":72,"z":"NA","x":411,"t":11.1},{"id":72,"z":"NA","x":424,"t":12},{"id":72,"z":"NA","x":451,"t":12},{"id":72,"z":"NA","x":466,"t":11.02},{"id":72,"z":"NA","x":479,"t":11.83},{"id":72,"z":"NA","x":479,"t":8},{"id":72,"z":"NA","x":466,"t":8},{"id":72,"z":"NA","x":479,"t":7},{"id":72,"z":"NA","x":479,"t":0},
{"id":73,"z":25,"x":425,"t":9},{"id":73,"z":25,"x":438,"t":9},{"id":73,"z":25,"x":451,"t":8},{"id":73,"z":25,"x":438,"t":8},
{"id":74,"z":30,"x":426,"t":9},{"id":74,"z":30,"x":439,"t":9},{"id":74,"z":30,"x":445,"t":8.6},{"id":74,"z":30,"x":433,"t":8.6},
{"id":75,"z":20,"x":435,"t":8.2},{"id":75,"z":20,"x":449,"t":8.2},{"id":75,"z":20,"x":451,"t":8},{"id":75,"z":20,"x":438,"t":8}
],
"b":[
{"id":1,"z":20,"x":0,"t":0},{"id":1,"z":20,"x":409,"t":0},{"id":1,"z":20,"x":409,"t":26},{"id":1,"z":20,"x":0,"t":26},
{"id":2,"z":25,"x":0,"t":26},{"id":2,"z":25,"x":409,"t":26},{"id":2,"z":25,"x":409,"t":24.74},{"id":2,"z":25,"x":396,"t":24.45},{"id":2,"z":25,"x":363,"t":24.68},{"id":2,"z":25,"x":339,"t":25.1},{"id":2,"z":25,"x":326,"t":25.3},{"id":2,"z":25,"x":303,"t":24.53},{"id":2,"z":25,"x":291,"t":24.35},{"id":2,"z":25,"x":271,"t":23.4},{"id":2,"z":25,"x":248,"t":22.98},{"id":2,"z":25,"x":259,"t":22.5},{"id":2,"z":25,"x":293,"t":22.3},{"id":2,"z":25,"x":328,"t":22.1},{"id":2,"z":25,"x":346,"t":21.8},{"id":2,"z":25,"x":354,"t":21.07},{"id":2,"z":25,"x":359,"t":20.06},{"id":2,"z":25,"x":351,"t":19.4},{"id":2,"z":25,"x":338,"t":19.4},{"id":2,"z":25,"x":326,"t":20},{"id":2,"z":25,"x":313,"t":19.3},{"id":2,"z":25,"x":311,"t":18.95},{"id":2,"z":25,"x":333,"t":18.3},{"id":2,"z":25,"x":349,"t":17.98},{"id":2,"z":25,"x":339,"t":16.9},{"id":2,"z":25,"x":318,"t":16.05},{"id":2,"z":25,"x":293,"t":15.8},{"id":2,"z":25,"x":279,"t":16.05},{"id":2,"z":25,"x":268,"t":15.1},{"id":2,"z":25,"x":306,"t":14.4},{"id":2,"z":25,"x":344,"t":14},{"id":2,"z":25,"x":336,"t":13},{"id":2,"z":25,"x":341,"t":13},{"id":2,"z":25,"x":374,"t":12},{"id":2,"z":25,"x":334,"t":11.68},{"id":2,"z":25,"x":318,"t":11.04},{"id":2,"z":25,"x":333,"t":10.15},{"id":2,"z":25,"x":316,"t":8.93},{"id":2,"z":25,"x":359,"t":8.45},{"id":2,"z":25,"x":384,"t":8.06},{"id":2,"z":25,"x":368,"t":6.26},{"id":2,"z":25,"x":373,"t":4.97},{"id":2,"z":25,"x":388,"t":3.9},{"id":2,"z":25,"x":364,"t":3.7},{"id":2,"z":25,"x":354,"t":3},{"id":2,"z":25,"x":314,"t":3},{"id":2,"z":25,"x":304,"t":2.05},{"id":2,"z":25,"x":304,"t":1.08},{"id":2,"z":25,"x":293,"t":0},{"id":2,"z":25,"x":243,"t":0},{"id":2,"z":25,"x":209,"t":1.81},{"id":2,"z":25,"x":208,"t":2.05},{"id":2,"z":25,"x":198,"t":3.1},{"id":2,"z":25,"x":174,"t":4},{"id":2,"z":25,"x":176,"t":4.8},{"id":2,"z":25,"x":183,"t":5.94},{"id":2,"z":25,"x":164,"t":7.8},{"id":2,"z":25,"x":162,"t":8.04},{"id":2,"z":25,"x":162,"t":8.85},{"id":2,"z":25,"x":178,"t":9.66},{"id":2,"z":25,"x":191,"t":10.55},{"id":2,"z":25,"x":209,"t":10.71},{"id":2,"z":25,"x":199,"t":10.79},{"id":2,"z":25,"x":223,"t":10.63},{"id":2,"z":25,"x":238,"t":11.04},{"id":2,"z":25,"x":219,"t":11.36},{"id":2,"z":25,"x":199,"t":11.12},{"id":2,"z":25,"x":198,"t":11.2},{"id":2,"z":25,"x":174,"t":11.84},{"id":2,"z":25,"x":155,"t":12},{"id":2,"z":25,"x":163,"t":13.06},{"id":2,"z":25,"x":119,"t":14.1},{"id":2,"z":25,"x":128,"t":15.08},{"id":2,"z":25,"x":156,"t":16},{"id":2,"z":25,"x":134,"t":16.53},{"id":2,"z":25,"x":104,"t":16.69},{"id":2,"z":25,"x":71,"t":16.94},{"id":2,"z":25,"x":46,"t":16.69},{"id":2,"z":25,"x":28,"t":17.1},{"id":2,"z":25,"x":18,"t":17.98},{"id":2,"z":25,"x":28,"t":18.95},{"id":2,"z":25,"x":14,"t":20},{"id":2,"z":25,"x":35,"t":20.29},{"id":2,"z":25,"x":44,"t":20},{"id":2,"z":25,"x":46,"t":19.32},{"id":2,"z":25,"x":56,"t":19.44},{"id":2,"z":25,"x":64,"t":20.16},{"id":2,"z":25,"x":58,"t":21.2},{"id":2,"z":25,"x":46,"t":21.69},{"id":2,"z":25,"x":27,"t":22},{"id":2,"z":25,"x":27,"t":22.98},{"id":2,"z":25,"x":29,"t":23.39},{"id":2,"z":25,"x":41,"t":23.87},{"id":2,"z":25,"x":6,"t":25},{"id":2,"z":25,"x":0,"t":25},
{"id":3,"z":20,"x":66,"t":19},{"id":3,"z":20,"x":82,"t":19.73},{"id":3,"z":20,"x":97,"t":19},{"id":3,"z":20,"x":82,"t":18.47},
{"id":4,"z":20,"x":53,"t":17.98},{"id":4,"z":20,"x":58,"t":18.35},{"id":4,"z":20,"x":60,"t":17.82},
{"id":5,"z":25,"x":43,"t":15.05},{"id":5,"z":25,"x":58,"t":15.32},{"id":5,"z":25,"x":94,"t":15.35},{"id":5,"z":25,"x":104,"t":15.05},{"id":5,"z":25,"x":94,"t":14.76},{"id":5,"z":25,"x":68,"t":14.76},
{"id":6,"z":25,"x":10,"t":21.94},{"id":6,"z":25,"x":12,"t":22.66},{"id":6,"z":25,"x":19,"t":22},
{"id":7,"z":20,"x":216,"t":22.98},{"id":7,"z":20,"x":229,"t":23.11},{"id":7,"z":20,"x":243,"t":22.98},{"id":7,"z":20,"x":231,"t":22.79},
{"id":8,"z":20,"x":378,"t":26},{"id":8,"z":20,"x":394,"t":26},{"id":8,"z":20,"x":384,"t":25.73},
{"id":9,"z":25,"x":382,"t":22.98},{"id":9,"z":25,"x":385,"t":23.08},{"id":9,"z":25,"x":389,"t":22.98},{"id":9,"z":25,"x":385,"t":22.9},
{"id":10,"z":25,"x":381,"t":21.05},{"id":10,"z":25,"x":388,"t":21.16},{"id":10,"z":25,"x":401,"t":21.1},{"id":10,"z":25,"x":396,"t":20.56},{"id":10,"z":25,"x":384,"t":20.4},
{"id":11,"z":25,"x":378,"t":19.03},{"id":11,"z":25,"x":388,"t":19.7},{"id":11,"z":25,"x":398,"t":19.55},{"id":11,"z":25,"x":408,"t":20.24},{"id":11,"z":25,"x":409,"t":19.03},{"id":11,"z":25,"x":399,"t":18.5},{"id":11,"z":25,"x":386,"t":18.55},
{"id":12,"z":20,"x":265,"t":17.1},{"id":12,"z":20,"x":271,"t":17.34},{"id":12,"z":20,"x":304,"t":17.45},{"id":12,"z":20,"x":314,"t":17},{"id":12,"z":20,"x":304,"t":16.37},{"id":12,"z":20,"x":281,"t":16.05},{"id":12,"z":20,"x":268,"t":16.6},
{"id":13,"z":10,"x":319,"t":23.15},{"id":13,"z":10,"x":324,"t":23.55},{"id":13,"z":10,"x":338,"t":23.55},{"id":13,"z":10,"x":341,"t":22.98},{"id":13,"z":10,"x":329,"t":22.74},
{"id":14,"z":10,"x":393,"t":17},{"id":14,"z":10,"x":409,"t":17.05},{"id":14,"z":10,"x":409,"t":15.97},{"id":14,"z":10,"x":396,"t":15.97},
{"id":15,"z":10,"x":358,"t":15.13},{"id":15,"z":10,"x":379,"t":15},{"id":15,"z":10,"x":363,"t":14.8},
{"id":16,"z":10,"x":363,"t":13.15},{"id":16,"z":10,"x":373,"t":13.55},{"id":16,"z":10,"x":386,"t":13.47},{"id":16,"z":10,"x":383,"t":12.85},{"id":16,"z":10,"x":369,"t":12.85},
{"id":17,"z":10,"x":386,"t":4.97},{"id":17,"z":10,"x":396,"t":5.37},{"id":17,"z":10,"x":409,"t":4.97},{"id":17,"z":10,"x":409,"t":4},{"id":17,"z":10,"x":396,"t":4},
{"id":18,"z":10,"x":336,"t":11},{"id":18,"z":10,"x":353,"t":11.3},{"id":18,"z":10,"x":373,"t":11.1},{"id":18,"z":10,"x":383,"t":10.9},{"id":18,"z":10,"x":409,"t":11},{"id":18,"z":10,"x":409,"t":8.9},{"id":18,"z":10,"x":396,"t":8.5},{"id":18,"z":10,"x":373,"t":9.1},{"id":18,"z":10,"x":356,"t":9.1},{"id":18,"z":10,"x":363,"t":10},
{"id":19,"z":5,"x":349,"t":10.98},{"id":19,"z":5,"x":376,"t":11.4},{"id":19,"z":5,"x":409,"t":11.4},{"id":19,"z":5,"x":409,"t":9.67},{"id":19,"z":5,"x":376,"t":9.5},{"id":19,"z":5,"x":373,"t":10.2},{"id":19,"z":5,"x":366,"t":10.8},
{"id":20,"z":0,"x":367,"t":10.95},{"id":20,"z":0,"x":374,"t":11.2},{"id":20,"z":0,"x":384,"t":10},{"id":20,"z":0,"x":374,"t":9.9},
{"id":21,"z":5,"x":374,"t":3},{"id":21,"z":5,"x":386,"t":3},{"id":21,"z":5,"x":382,"t":3.1},
{"id":22,"z":5,"x":404,"t":4},{"id":22,"z":5,"x":409,"t":4.16},{"id":22,"z":5,"x":409,"t":4},
{"id":23,"z":10,"x":0,"t":13.1},{"id":23,"z":10,"x":11,"t":13.95},{"id":23,"z":10,"x":34,"t":14.1},{"id":23,"z":10,"x":48,"t":14.35},{"id":23,"z":10,"x":81,"t":14.1},{"id":23,"z":10,"x":91,"t":13.7},{"id":23,"z":10,"x":119,"t":13},{"id":23,"z":10,"x":83,"t":12.33},{"id":23,"z":10,"x":74,"t":13.2},{"id":23,"z":10,"x":33,"t":13.7},{"id":23,"z":10,"x":29,"t":13.2},{"id":23,"z":10,"x":33,"t":12},{"id":23,"z":10,"x":0,"t":12},
{"id":24,"z":5,"x":46,"t":14},{"id":24,"z":5,"x":63,"t":14.08},{"id":24,"z":5,"x":59,"t":13.84},{"id":24,"z":5,"x":51,"t":13.84},
{"id":25,"z":20,"x":184,"t":7},{"id":25,"z":20,"x":187,"t":7.1},{"id":25,"z":20,"x":189,"t":7},{"id":25,"z":20,"x":187,"t":6.8},
{"id":26,"z":30,"x":16,"t":26},{"id":26,"z":30,"x":28,"t":25.3},{"id":26,"z":30,"x":54,"t":24.65},{"id":26,"z":30,"x":69,"t":24.1},{"id":26,"z":30,"x":75,"t":24.55},{"id":26,"z":30,"x":81,"t":25.1},{"id":26,"z":30,"x":96,"t":24.8},{"id":26,"z":30,"x":86,"t":24.1},{"id":26,"z":30,"x":71,"t":23.84},{"id":26,"z":30,"x":58,"t":23.24},{"id":26,"z":30,"x":48,"t":22.9},{"id":26,"z":30,"x":76,"t":22.03},{"id":26,"z":30,"x":73,"t":21},{"id":26,"z":30,"x":94,"t":20.2},{"id":26,"z":30,"x":128,"t":18.94},{"id":26,"z":30,"x":114,"t":18.06},{"id":26,"z":30,"x":119,"t":17.42},{"id":26,"z":30,"x":158,"t":16.9},{"id":26,"z":30,"x":171,"t":16.4},{"id":26,"z":30,"x":174,"t":15.97},{"id":26,"z":30,"x":164,"t":15.3},{"id":26,"z":30,"x":176,"t":13.85},{"id":26,"z":30,"x":201,"t":13.06},{"id":26,"z":30,"x":208,"t":12.25},{"id":26,"z":30,"x":209,"t":12.25},{"id":26,"z":30,"x":229,"t":11.36},{"id":26,"z":30,"x":248,"t":11.04},{"id":26,"z":30,"x":236,"t":10.15},{"id":26,"z":30,"x":218,"t":9.98},{"id":26,"z":30,"x":209,"t":9.42},{"id":26,"z":30,"x":184,"t":9.42},{"id":26,"z":30,"x":177,"t":8.53},{"id":26,"z":30,"x":176,"t":8.04},{"id":26,"z":30,"x":198,"t":7.07},{"id":26,"z":30,"x":196,"t":5.94},{"id":26,"z":30,"x":198,"t":4.97},{"id":26,"z":30,"x":184,"t":4},{"id":26,"z":30,"x":198,"t":3.43},{"id":26,"z":30,"x":209,"t":2.2},{"id":26,"z":30,"x":226,"t":1.41},{"id":26,"z":30,"x":244,"t":0},{"id":26,"z":30,"x":293,"t":0},{"id":26,"z":30,"x":304,"t":1},{"id":26,"z":30,"x":304,"t":2},{"id":26,"z":30,"x":314,"t":3},{"id":26,"z":30,"x":354,"t":3},{"id":26,"z":30,"x":369,"t":4.48},{"id":26,"z":30,"x":362,"t":6.3},{"id":26,"z":30,"x":333,"t":6.8},{"id":26,"z":30,"x":369,"t":7.9},{"id":26,"z":30,"x":309,"t":8.64},{"id":26,"z":30,"x":328,"t":10.03},{"id":26,"z":30,"x":314,"t":11},{"id":26,"z":30,"x":336,"t":12},{"id":26,"z":30,"x":299,"t":12.5},{"id":26,"z":30,"x":285,"t":13.2},{"id":26,"z":30,"x":286,"t":14.19},{"id":26,"z":30,"x":249,"t":15.08},{"id":26,"z":30,"x":244,"t":15.8},{"id":26,"z":30,"x":219,"t":16.6},{"id":26,"z":30,"x":216,"t":18.18},{"id":26,"z":30,"x":249,"t":18.5},{"id":26,"z":30,"x":278,"t":18.5},{"id":26,"z":30,"x":293,"t":19},{"id":26,"z":30,"x":271,"t":19.44},{"id":26,"z":30,"x":263,"t":20},{"id":26,"z":30,"x":291,"t":20.56},{"id":26,"z":30,"x":303,"t":21.05},{"id":26,"z":30,"x":278,"t":21.85},{"id":26,"z":30,"x":248,"t":21.45},{"id":26,"z":30,"x":219,"t":22.03},{"id":26,"z":30,"x":208,"t":22.03},{"id":26,"z":30,"x":199,"t":22.55},{"id":26,"z":30,"x":199,"t":23.2},{"id":26,"z":30,"x":209,"t":23.6},{"id":26,"z":30,"x":269,"t":23.95},{"id":26,"z":30,"x":268,"t":24.97},{"id":26,"z":30,"x":293,"t":26},
{"id":27,"z":25,"x":154,"t":21.05},{"id":27,"z":25,"x":164,"t":21.6},{"id":27,"z":25,"x":176,"t":21.53},{"id":27,"z":25,"x":208,"t":21.93},{"id":27,"z":25,"x":208,"t":20.8},{"id":27,"z":25,"x":164,"t":20.5},
{"id":28,"z":35,"x":78,"t":26},{"id":28,"z":35,"x":98,"t":25.84},{"id":28,"z":35,"x":114,"t":26},
{"id":29,"z":35,"x":146,"t":23.95},{"id":29,"z":35,"x":174,"t":24.39},{"id":29,"z":35,"x":183,"t":23.95},{"id":29,"z":35,"x":164,"t":23.7},
{"id":30,"z":35,"x":91,"t":21.05},{"id":30,"z":35,"x":104,"t":22.13},{"id":30,"z":35,"x":133,"t":21.05},{"id":30,"z":35,"x":113,"t":20.5},{"id":30,"z":35,"x":103,"t":20.5},
{"id":31,"z":35,"x":158,"t":17.1},{"id":31,"z":35,"x":186,"t":17.95},{"id":31,"z":35,"x":198,"t":17.26},{"id":31,"z":35,"x":200,"t":16.05},{"id":31,"z":35,"x":178,"t":16.6},
{"id":32,"z":35,"x":199,"t":17},{"id":32,"z":35,"x":203,"t":16.5},{"id":32,"z":35,"x":205,"t":15.8},{"id":32,"z":35,"x":219,"t":15.16},{"id":32,"z":35,"x":236,"t":14.6},{"id":32,"z":35,"x":261,"t":13.95},{"id":32,"z":35,"x":234,"t":13.1},{"id":32,"z":35,"x":209,"t":14.27},{"id":32,"z":35,"x":198,"t":14.9},{"id":32,"z":35,"x":201,"t":16},
{"id":33,"z":35,"x":199,"t":19.97},{"id":33,"z":35,"x":221,"t":20.65},{"id":33,"z":35,"x":239,"t":20},{"id":33,"z":35,"x":239,"t":18.95},{"id":33,"z":35,"x":209,"t":18.8},{"id":33,"z":35,"x":202,"t":18.85},
{"id":34,"z":40,"x":220,"t":20},{"id":34,"z":40,"x":223,"t":20},{"id":34,"z":40,"x":221,"t":19.87},
{"id":35,"z":35,"x":234,"t":12.05},{"id":35,"z":35,"x":244,"t":12.65},{"id":35,"z":35,"x":266,"t":12},{"id":35,"z":35,"x":283,"t":11.84},{"id":35,"z":35,"x":303,"t":12.1},{"id":35,"z":35,"x":316,"t":12.25},{"id":35,"z":35,"x":321,"t":12.05},{"id":35,"z":35,"x":309,"t":11.84},{"id":35,"z":35,"x":301,"t":11.84},{"id":35,"z":35,"x":288,"t":10.96},{"id":35,"z":35,"x":269,"t":10.3},{"id":35,"z":35,"x":258,"t":10.4},{"id":35,"z":35,"x":256,"t":11.1},
{"id":36,"z":35,"x":231,"t":13.2},{"id":36,"z":35,"x":239,"t":13.2},{"id":36,"z":35,"x":234,"t":13.1},
{"id":37,"z":40,"x":266,"t":11},{"id":37,"z":40,"x":269,"t":11.1},{"id":37,"z":40,"x":271,"t":10.95},
{"id":38,"z":35,"x":226,"t":8.98},{"id":38,"z":35,"x":234,"t":9.34},{"id":38,"z":35,"x":258,"t":9.9},{"id":38,"z":35,"x":279,"t":9.58},{"id":38,"z":35,"x":293,"t":9.17},{"id":38,"z":35,"x":303,"t":8.69},{"id":38,"z":35,"x":321,"t":8.07},{"id":38,"z":35,"x":363,"t":8.04},{"id":38,"z":35,"x":356,"t":7.8},{"id":38,"z":35,"x":326,"t":7.64},{"id":38,"z":35,"x":313,"t":6.99},{"id":38,"z":35,"x":338,"t":6.1},{"id":38,"z":35,"x":343,"t":5.13},{"id":38,"z":35,"x":356,"t":4},{"id":38,"z":35,"x":339,"t":3.19},{"id":38,"z":35,"x":316,"t":3},{"id":38,"z":35,"x":314,"t":3},{"id":38,"z":35,"x":304,"t":2},{"id":38,"z":35,"x":304,"t":1},{"id":38,"z":35,"x":293,"t":0},{"id":38,"z":35,"x":274,"t":0},{"id":38,"z":35,"x":261,"t":0.44},{"id":38,"z":35,"x":263,"t":1},{"id":38,"z":35,"x":244,"t":1.56},{"id":38,"z":35,"x":233,"t":2.2},{"id":38,"z":35,"x":214,"t":3},{"id":38,"z":35,"x":221,"t":4},{"id":38,"z":35,"x":249,"t":5},{"id":38,"z":35,"x":223,"t":5.3},{"id":38,"z":35,"x":213,"t":5.94},{"id":38,"z":35,"x":223,"t":7},
{"id":39,"z":40,"x":279,"t":8.69},{"id":39,"z":40,"x":303,"t":8.45},{"id":39,"z":40,"x":319,"t":8.04},{"id":39,"z":40,"x":309,"t":7.07},{"id":39,"z":40,"x":314,"t":6.75},{"id":39,"z":40,"x":334,"t":6.1},{"id":39,"z":40,"x":336,"t":4.97},{"id":39,"z":40,"x":343,"t":4},{"id":39,"z":40,"x":316,"t":3.1},{"id":39,"z":40,"x":308,"t":2.54},{"id":39,"z":40,"x":304,"t":1.9},{"id":39,"z":40,"x":304,"t":1},{"id":39,"z":40,"x":293,"t":0},{"id":39,"z":40,"x":274,"t":0},{"id":39,"z":40,"x":261,"t":1},{"id":39,"z":40,"x":263,"t":1.4},{"id":39,"z":40,"x":288,"t":2},{"id":39,"z":40,"x":271,"t":2.54},{"id":39,"z":40,"x":251,"t":3.1},{"id":39,"z":40,"x":243,"t":4},{"id":39,"z":40,"x":273,"t":4.8},{"id":39,"z":40,"x":271,"t":5.8},{"id":39,"z":40,"x":261,"t":7},{"id":39,"z":40,"x":274,"t":7.4},
{"id":40,"z":40,"x":245,"t":9},{"id":40,"z":40,"x":256,"t":9.15},{"id":40,"z":40,"x":264,"t":9},{"id":40,"z":40,"x":256,"t":8.85},
{"id":41,"z":45,"x":289,"t":3.92},{"id":41,"z":45,"x":296,"t":5.05},{"id":41,"z":45,"x":304,"t":5.42},{"id":41,"z":45,"x":313,"t":4.97},{"id":41,"z":45,"x":313,"t":4.03},{"id":41,"z":45,"x":299,"t":3.92},
{"id":42,"z":45,"x":274,"t":1},{"id":42,"z":45,"x":288,"t":1.17},{"id":42,"z":45,"x":301,"t":1.73},{"id":42,"z":45,"x":304,"t":1.25},{"id":42,"z":45,"x":301,"t":0.76},{"id":42,"z":45,"x":288,"t":0.44},
{"id":43,"z":45,"x":289,"t":8},{"id":43,"z":45,"x":293,"t":8.12},{"id":43,"z":45,"x":296,"t":8},{"id":43,"z":45,"x":293,"t":7.83},
{"id":44,"z":"NA","x":0,"t":12},{"id":44,"z":"NA","x":129,"t":12},{"id":44,"z":"NA","x":140,"t":11},{"id":44,"z":"NA","x":139,"t":9.9},{"id":44,"z":"NA","x":129,"t":9},{"id":44,"z":"NA","x":153,"t":9},{"id":44,"z":"NA","x":163,"t":8},{"id":44,"z":"NA","x":152,"t":7},{"id":44,"z":"NA","x":141,"t":7},{"id":44,"z":"NA","x":151,"t":6},{"id":44,"z":"NA","x":141,"t":5},{"id":44,"z":"NA","x":151,"t":5},{"id":44,"z":"NA","x":163,"t":4},{"id":44,"z":"NA","x":152,"t":3},{"id":44,"z":"NA","x":187,"t":1},{"id":44,"z":"NA","x":187,"t":0},{"id":44,"z":"NA","x":0,"t":0},{"id":44,"z":"NA","x":0,"t":6},{"id":44,"z":"NA","x":11,"t":6},{"id":44,"z":"NA","x":23,"t":7},{"id":44,"z":"NA","x":34,"t":7},{"id":44,"z":"NA","x":23,"t":8},{"id":44,"z":"NA","x":11,"t":8},{"id":44,"z":"NA","x":0,"t":9},
{"id":45,"z":"NA","x":293,"t":0},{"id":45,"z":"NA","x":304,"t":1},{"id":45,"z":"NA","x":304,"t":2},{"id":45,"z":"NA","x":314,"t":3},{"id":45,"z":"NA","x":354,"t":3},{"id":45,"z":"NA","x":386,"t":3},{"id":45,"z":"NA","x":404,"t":4},{"id":45,"z":"NA","x":409,"t":4},{"id":45,"z":"NA","x":409,"t":0},
{"id":46,"z":"NA","x":373,"t":11},{"id":46,"z":"NA","x":388,"t":12},{"id":46,"z":"NA","x":396,"t":12},{"id":46,"z":"NA","x":409,"t":11},{"id":46,"z":"NA","x":396,"t":10},{"id":46,"z":"NA","x":381,"t":10},
{"id":47,"z":20,"x":83,"t":6},{"id":47,"z":20,"x":93,"t":6},{"id":47,"z":20,"x":104,"t":5},{"id":47,"z":20,"x":93,"t":5},
{"id":48,"z":5,"x":93,"t":5.7},{"id":48,"z":5,"x":104,"t":5},{"id":48,"z":5,"x":93,"t":5},
{"id":49,"z":10,"x":11,"t":7.4},{"id":49,"z":10,"x":23,"t":8},{"id":49,"z":10,"x":31,"t":7},{"id":49,"z":10,"x":23,"t":7},{"id":49,"z":10,"x":11,"t":6},{"id":49,"z":10,"x":0,"t":6},{"id":49,"z":10,"x":0,"t":6.9},
{"id":50,"z":5,"x":23,"t":8},{"id":50,"z":5,"x":34,"t":7},{"id":50,"z":5,"x":31,"t":7},
{"id":51,"z":10,"x":129,"t":12},{"id":51,"z":10,"x":148,"t":11.6},{"id":51,"z":10,"x":158,"t":11},{"id":51,"z":10,"x":156,"t":10.1},{"id":51,"z":10,"x":146,"t":9.7},{"id":51,"z":10,"x":129,"t":9},{"id":51,"z":10,"x":139,"t":9.9},{"id":51,"z":10,"x":140,"t":11},
{"id":52,"z":5,"x":129,"t":12},{"id":52,"z":5,"x":136,"t":11.6},{"id":52,"z":5,"x":147,"t":11},{"id":52,"z":5,"x":151,"t":10},{"id":52,"z":5,"x":140,"t":9.7},{"id":52,"z":5,"x":129,"t":9},{"id":52,"z":5,"x":139,"t":9.9},{"id":52,"z":5,"x":140,"t":11},
{"id":53,"z":10,"x":141,"t":7},{"id":53,"z":10,"x":168,"t":6},{"id":53,"z":10,"x":150,"t":5.2},{"id":53,"z":10,"x":141,"t":5},{"id":53,"z":10,"x":151,"t":6},
{"id":54,"z":5,"x":141,"t":7},{"id":54,"z":5,"x":161,"t":6},{"id":54,"z":5,"x":141,"t":5},{"id":54,"z":5,"x":151,"t":6},
{"id":55,"z":5,"x":165,"t":2.7},{"id":55,"z":5,"x":171,"t":2.38},{"id":55,"z":5,"x":191,"t":0.92},{"id":55,"z":5,"x":187,"t":1},
{"id":56,"z":10,"x":187,"t":0},{"id":56,"z":10,"x":208,"t":0},{"id":56,"z":10,"x":208,"t":0.9},{"id":56,"z":10,"x":192,"t":1},{"id":56,"z":10,"x":187,"t":1}
]
},
"hconcat":[
{"hconcat":[
{"width":479,"height":535,"layer":[
{"data":{"name":"a"},"mark":{"type":"line","order":null,"strokeWidth":0},"encoding":{"x":{"field":"x","type":"quantitative","scale":{"domain":[0,479],"nice":false,"zero":false},"axis":{"domain":false,"ticks":false,"labels":false,"grid":false,"title":"Shear direction","titleFontSize":22,"titleFontWeight":"normal","titleColor":"#231815","titlePadding":3,"titleX":243}},"y":{"field":"t","type":"quantitative","scale":{"domain":[0,26],"nice":false,"zero":false},"axis":{"values":[0,1,2,3,4,5,6,7,8,9,10,11,12,13,14,15,16,17,18,19,20,21,22,23,24,25,26],"grid":false,"domain":false,"tickSize":-4,"tickColor":"#555","zindex":1,"labelExpr":"datum.value%2==0?(datum.value<6?'08'+(18+datum.value):(datum.value<16?'090':'09')+(datum.value-6)):''","labelFontSize":17,"labelFontWeight":"bold","labelColor":"#444","labelPadding":16,"title":"Time","titleFontSize":20,"titleFontWeight":"bold","titleColor":"#333","titleX":-50}},"detail":{"field":"id"},"fill":{"field":"z","type":"ordinal","legend":null,"scale":{"domain":[-10,-5,0,5,10,15,20,25,30,35,40,45,50,55,60,"NA"],"range":["#6EC6E8","#00A9A5","#0095D9","#3B2A8B","#33A535","#009C3C","#009C3C","#FFED00","#F7C300","#F18700","#E8380D","#E60B0F","#E60B0F","#CB4A9B","#8A5AA3","#FFFFFF"]}}}},
{"data":{"values":[{"x":246.7}]},"mark":{"type":"rule","color":"#111","strokeWidth":1.3},"encoding":{"x":{"field":"x","type":"quantitative"}}},
{"data":{"values":[{"x":10,"x2":46.7,"t":25.45,"t2":23.88}]},"mark":{"type":"rect","fill":"white","stroke":"#777","strokeWidth":1},"encoding":{"x":{"field":"x","type":"quantitative"},"x2":{"field":"x2"},"y":{"field":"t","type":"quantitative","axis":{"orient":"right","values":[0,1,2,3,4,5,6,7,8,9,10,11,12,13,14,15,16,17,18,19,20,21,22,23,24,25,26],"grid":false,"domain":false,"labels":false,"tickSize":-4,"tickColor":"#555","title":null,"zindex":1}},"y2":{"field":"t2"}}},
{"data":{"values":[{"x":28.3,"t":24.67,"label":"A"}]},"mark":{"type":"text","font":"Liberation Sans","fontWeight":"bold","fontSize":24,"color":"#111"},"encoding":{"x":{"field":"x","type":"quantitative"},"y":{"field":"t","type":"quantitative","axis":null},"text":{"field":"label"}}}
],"resolve":{"axis":{"y":"independent"}}},
{"width":409,"height":535,"layer":[
{"data":{"name":"b"},"mark":{"type":"line","order":null,"strokeWidth":0},"encoding":{"x":{"field":"x","type":"quantitative","scale":{"domain":[0,409],"nice":false,"zero":false},"axis":{"domain":false,"ticks":false,"labels":false,"grid":false,"title":"Move direction","titleFontSize":22,"titleFontWeight":"normal","titleColor":"#231815","titlePadding":3,"titleX":205}},"y":{"field":"t","type":"quantitative","scale":{"domain":[0,26],"nice":false,"zero":false},"axis":{"values":[0,1,2,3,4,5,6,7,8,9,10,11,12,13,14,15,16,17,18,19,20,21,22,23,24,25,26],"grid":false,"domain":false,"labels":false,"tickSize":-4,"tickColor":"#555","title":null,"zindex":1}},"detail":{"field":"id"},"fill":{"field":"z","type":"ordinal","legend":null,"scale":{"domain":[-10,-5,0,5,10,15,20,25,30,35,40,45,50,55,60,"NA"],"range":["#6EC6E8","#00A9A5","#0095D9","#3B2A8B","#33A535","#009C3C","#009C3C","#FFED00","#F7C300","#F18700","#E8380D","#E60B0F","#E60B0F","#CB4A9B","#8A5AA3","#FFFFFF"]}}}},
{"data":{"values":[{"x":209}]},"mark":{"type":"rule","color":"#111","strokeWidth":2.6},"encoding":{"x":{"field":"x","type":"quantitative"}}},
{"data":{"values":[{"x":6,"x2":43,"t":25.5,"t2":23.9}]},"mark":{"type":"rect","fill":"white","stroke":"#777","strokeWidth":1},"encoding":{"x":{"field":"x","type":"quantitative"},"x2":{"field":"x2"},"y":{"field":"t","type":"quantitative","axis":{"orient":"right","values":[0,1,2,3,4,5,6,7,8,9,10,11,12,13,14,15,16,17,18,19,20,21,22,23,24,25,26],"grid":false,"domain":false,"labels":false,"tickSize":-4,"tickColor":"#555","title":null,"zindex":1}},"y2":{"field":"t2"}}},
{"data":{"values":[{"x":24.5,"t":24.7,"label":"B"}]},"mark":{"type":"text","font":"Liberation Sans","fontWeight":"bold","fontSize":24,"color":"#111"},"encoding":{"x":{"field":"x","type":"quantitative"},"y":{"field":"t","type":"quantitative","axis":null},"text":{"field":"label"}}}
],"resolve":{"axis":{"y":"independent"}}}
],"spacing":22,"bounds":"flush"},
{"width":24,"height":536,"title":{"text":"dBZ","anchor":"start","font":"Liberation Serif","fontSize":18,"fontWeight":"bold","color":"#231815","offset":3},"data":{"name":"bands"},"mark":{"type":"rect"},"encoding":{"y":{"field":"z","type":"quantitative","scale":{"domain":[-10,65],"nice":false,"zero":false},"axis":{"orient":"right","values":[-10,-5,0,5,10,15,20,25,30,35,40,45,50,55,60,65],"grid":false,"domain":false,"tickSize":-4,"tickColor":"#444","zindex":1,"labelPadding":7,"labelFontSize":16.5,"labelColor":"#231815","labelFontWeight":{"condition":{"test":"datum.value==0||datum.value==5","value":"bold"},"value":"normal"},"title":null}},"y2":{"field":"hi"},"fill":{"field":"z","type":"ordinal","legend":null,"scale":{"domain":[-10,-5,0,5,10,15,20,25,30,35,40,45,50,55,60,"NA"],"range":["#6EC6E8","#00A9A5","#0095D9","#3B2A8B","#33A535","#009C3C","#009C3C","#FFED00","#F7C300","#F18700","#E8380D","#E60B0F","#E60B0F","#CB4A9B","#8A5AA3","#FFFFFF"]}}}}
]}
